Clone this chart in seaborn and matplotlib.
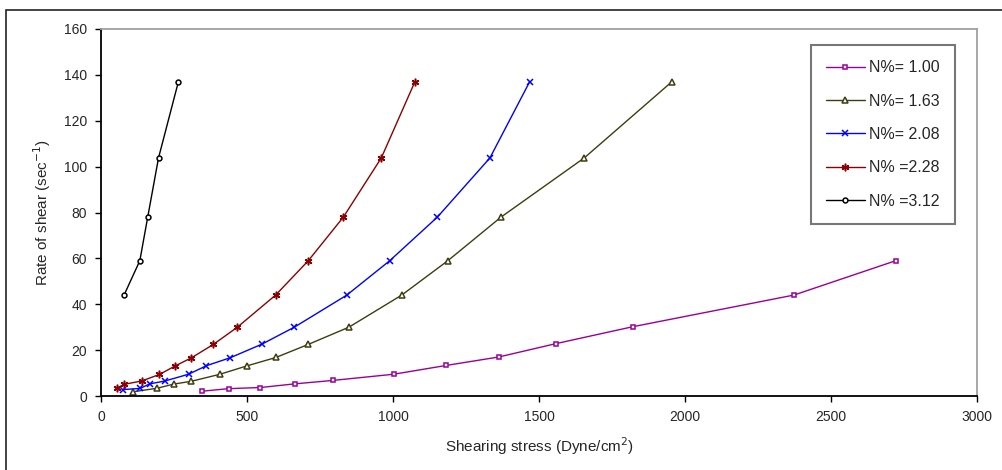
import numpy as np
import pandas as pd
import matplotlib
matplotlib.use('Agg')
import matplotlib.pyplot as plt
import seaborn as sns

# 数据
x_100 = [347, 437, 546, 664, 795, 1003, 1181, 1362, 1557, 1821, 2373, 2722]
y_100 = [2.1, 3.2, 3.7, 5.3, 6.8, 9.5, 13.3, 17.0, 22.8, 30.2, 44.0, 59.0]

x_163 = [108, 193, 249, 309, 408, 499, 599, 710, 849, 1030, 1188, 1370, 1655, 1955]
y_163 = [1.8, 3.4, 5.2, 6.4, 9.5, 13.1, 16.8, 22.5, 30.0, 44.0, 59.0, 78.0, 103.8, 137.0]

x_208 = [75, 134, 167, 218, 300, 361, 443, 551, 662, 842, 989, 1152, 1332, 1468]
y_208 = [2.8, 3.3, 5.3, 6.5, 9.5, 13.2, 16.7, 22.6, 30.0, 44.0, 59.0, 78.0, 103.8, 137.0]

x_228 = [54, 80, 141, 200, 254, 309, 385, 467, 598, 710, 830, 960, 1075]
y_228 = [3.4, 5.1, 6.6, 9.4, 13.1, 16.6, 22.5, 30.0, 44.0, 59.0, 78.0, 103.8, 137.0]

x_312 = [79, 133, 160, 197, 265]
y_312 = [44.0, 59.0, 78.0, 103.8, 137.0]

labels = ['N%= 1.00', 'N%= 1.63', 'N%= 2.08', 'N% =2.28', 'N% =3.12']

sns.set_style('white')
plt.rcParams['font.family'] = ['Liberation Sans', 'DejaVu Sans']

fig = plt.figure(figsize=(10.02, 4.70), dpi=100)
# 外框
fig.patches.append(plt.Rectangle((6 / 1002, -0.05), 1.1, (470 - 10) / 470 + 0.05,
                                 transform=fig.transFigure, fill=False,
                                 edgecolor='#222222', linewidth=1.2))
ax = fig.add_axes([101 / 1002, (470 - 396) / 470, 876 / 1002, 367 / 470])

series = [
    (x_100, y_100, '#990099', 's', 3.5),
    (x_163, y_163, '#3d3d10', '^', 4.5),
    (x_208, y_208, '#0000ff', 'x', 5),
    (x_228, y_228, '#8b0000', (6, 2, 0), 5.5),
    (x_312, y_312, '#000000', 'o', 3.5),
]
for (xs, ys, c, m, ms), lab in zip(series, labels):
    sns.lineplot(x=xs, y=ys, ax=ax, color=c, marker=m, markersize=ms,
                 markerfacecolor='white', markeredgecolor=c, markeredgewidth=1.1,
                 linewidth=1.0, sort=False, label=lab, estimator=None)

ax.set_xlim(0, 3000)
ax.set_ylim(0, 160)
ax.set_xticks(np.arange(0, 3001, 500))
ax.set_yticks(np.arange(0, 161, 20))
ax.tick_params(axis='both', direction='out', length=4, width=1, color='black',
               labelsize=10, pad=6, bottom=True, left=True)
for s in ['left', 'bottom']:
    ax.spines[s].set_color('black')
    ax.spines[s].set_linewidth(1.3)
for s in ['top', 'right']:
    ax.spines[s].set_color('#a0a0a0')
    ax.spines[s].set_linewidth(1.3)

ax.set_xlabel('Shearing stress (Dyne/cm$^{2}$)', fontsize=11, labelpad=8)
ax.set_ylabel('Rate of shear (sec$^{-1}$)', fontsize=11, labelpad=8)

leg = ax.legend(loc='upper left', bbox_to_anchor=(710 / 876, (396 - 45) / 367),
                frameon=True, fancybox=False, fontsize=11.5, handlelength=2.4,
                labelspacing=1.15, borderpad=0.95, handletextpad=0.3,
                borderaxespad=0)
leg.get_frame().set_edgecolor('#555555')
leg.get_frame().set_linewidth(1.5)

fig.savefig('out.png', dpi=100)
